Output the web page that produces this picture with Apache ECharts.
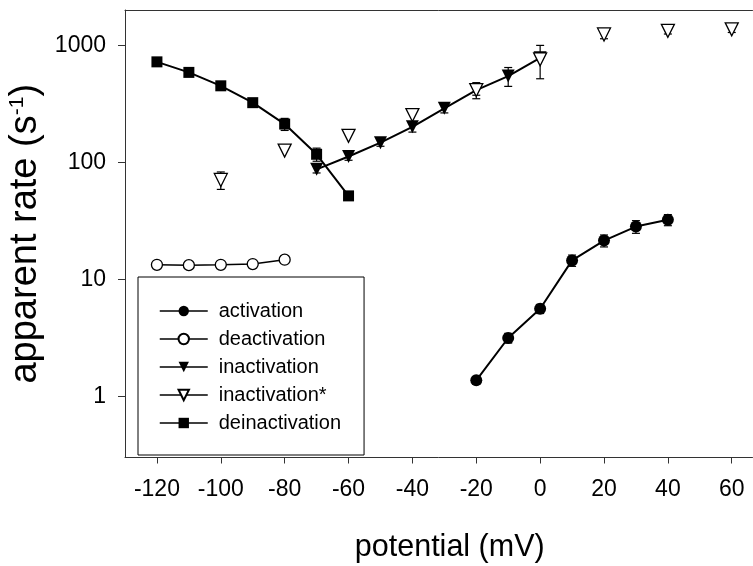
<!DOCTYPE html>
<html><head><meta charset="utf-8">
<script src="https://cdn.jsdelivr.net/npm/echarts@6/dist/echarts.min.js"></script>
<style>html,body{margin:0;padding:0;background:#fff}#c{width:753px;height:566px}</style>
</head><body><div id="c"></div>
<script>
const potentialTicks = [-120,-100,-80,-60,-40,-20,0,20,40,60];
const rateTicks = [1,10,100,1000];
const activationX = [-20,-10,0,10,20,30,40];
const activationY = [1.37,3.15,5.6,14.5,21.4,28.2,32.2];
const activationErr = [0.1,0.3,0.5,1.6,2.5,3.5,3.5];
const deactivationX = [-120,-110,-100,-90,-80];
const deactivationY = [13.3,13.2,13.3,13.5,14.7];
const inactivationX = [-70,-60,-50,-40,-30,-20,-10,0];
const inactivationY = [87,112,147,201,289,414,545,780];
const inactivationErr = [6,8,10,20,25,40,100,0];
const inactivationStarX = [-100,-80,-60,-40,-20,0,20,40,60];
const inactivationStarY = [70.6,125.7,168,253,414,757,1236,1327,1365];
const inactivationStarErr = [12,0,0,0,65,240,100,80,80];
const deinactivationX = [-120,-110,-100,-90,-80,-70,-60];
const deinactivationY = [721,586,450,323,212,117,51.6];
const deinactivationErr = [0,0,0,0,25,15,0];

const FONT = 'Liberation Sans';
const AX = '#333';
function zip(xs, ys){ return xs.map((x,i)=>[x, ys[i]]); }
function errData(xs, ys, es){
  const out = [];
  xs.forEach((x,i)=>{ if (es[i] > 0) out.push([x, ys[i]-es[i], ys[i]+es[i]]); });
  return out;
}
function errRender(params, api){
  const x = api.value(0), lo = api.value(1), hi = api.value(2);
  const pLo = api.coord([x, lo]), pHi = api.coord([x, hi]);
  const w = 4;
  const style = {stroke:'#000', lineWidth:1.2};
  return {type:'group', children:[
    {type:'line', shape:{x1:pLo[0],y1:pLo[1],x2:pHi[0],y2:pHi[1]}, style:style},
    {type:'line', shape:{x1:pLo[0]-w,y1:pLo[1],x2:pLo[0]+w,y2:pLo[1]}, style:style},
    {type:'line', shape:{x1:pHi[0]-w,y1:pHi[1],x2:pHi[0]+w,y2:pHi[1]}, style:style}
  ]};
}
const allErr = [].concat(
  errData(activationX, activationY, activationErr),
  errData(inactivationX, inactivationY, inactivationErr),
  errData(inactivationStarX, inactivationStarY, inactivationStarErr),
  errData(deinactivationX, deinactivationY, deinactivationErr)
);

const chart = echarts.init(document.getElementById('c'), null, {renderer:'canvas'});
chart.setOption({
  animation: false,
  backgroundColor: '#fff',
  textStyle: {fontFamily: FONT, color: '#000'},
  grid: {left: 125, top: 10, right: 0.5, bottom: 108.5, containLabel: false, outerBoundsMode: 'none'},
  xAxis: [{
    type: 'value', min: -130, max: 66.5, position: 'bottom',
    axisLine: {onZero: false, lineStyle: {color: AX, width: 1}},
    axisTick: {customValues: potentialTicks, length: 6, lineStyle: {color: AX}},
    axisLabel: {customValues: potentialTicks, fontSize: 23, color: '#000', margin: 21, fontFamily: FONT},
    splitLine: {show: false},
    name: 'potential (mV)', nameLocation: 'middle', nameGap: 75, nameMoveOverlap: false,
    nameTextStyle: {fontSize: 30.5, color: '#000', fontFamily: FONT, padding: [0,0,0,22]}
  },{
    type: 'value', min: -130, max: 66.5, position: 'top',
    axisLine: {show: true, onZero: false, lineStyle: {color: AX, width: 1}},
    axisTick: {show: false}, axisLabel: {show: false}, splitLine: {show: false}
  }],
  yAxis: {
    type: 'log', logBase: 10, min: 0.3, max: 2000,
    axisLine: {show: true, onZero: false, lineStyle: {color: AX, width: 1}},
    axisTick: {show: true, customValues: rateTicks, length: 7, lineStyle: {color: AX}},
    axisLabel: {customValues: rateTicks, fontSize: 23, color: '#000', margin: 19, fontFamily: FONT,
      formatter: function(v){ return String(Math.round(v)); }},
    splitLine: {show: false}, minorTick: {show: false},
    name: 'apparent rate (s{sup|-1})', nameLocation: 'middle', nameGap: 80, nameMoveOverlap: false,
    nameTextStyle: {fontSize: 38, color: '#000', fontFamily: FONT,
      rich: {sup: {fontSize: 21, verticalAlign: 'top', color: '#000', fontFamily: FONT}}}
  },
  legend: {
    data: ['activation','deactivation','inactivation','inactivation*','deinactivation'],
    orient: 'vertical', left: 138, top: 277,
    padding: [24, 23, 22, 21],
    itemWidth: 48, itemHeight: 13, itemGap: 8,
    borderColor: '#000', borderWidth: 1,
    selectedMode: false,
    textStyle: {fontSize: 20, color: '#000', lineHeight: 20, padding: [0,0,0,6], fontFamily: FONT},
    lineStyle: {color: '#000', width: 1.5, opacity: 1}
  },
  series: [
    {type: 'custom', renderItem: errRender, data: allErr, z: 1, silent: true,
     encode: {x: 0, y: [1, 2]}},
    {name: 'activation', type: 'line', data: zip(activationX, activationY),
     symbol: 'circle', symbolSize: 12, itemStyle: {color: '#000'},
     lineStyle: {color: '#000', width: 2}, z: 3},
    {name: 'deactivation', type: 'line', data: zip(deactivationX, deactivationY),
     symbol: 'circle', symbolSize: 11, itemStyle: {color: '#fff', borderColor: '#000', borderWidth: 1.3},
     lineStyle: {color: '#000', width: 1.5}, z: 3},
    {name: 'inactivation', type: 'line', data: zip(inactivationX, inactivationY),
     symbol: 'triangle', symbolRotate: 180, symbolSize: 13, itemStyle: {color: '#000'},
     lineStyle: {color: '#000', width: 2}, z: 3},
    {name: 'inactivation*', type: 'line', data: zip(inactivationStarX, inactivationStarY),
     symbol: 'triangle', symbolRotate: 180, symbolSize: 13,
     itemStyle: {color: '#fff', borderColor: '#000', borderWidth: 1.3},
     lineStyle: {color: '#000', width: 1.5, opacity: 0}, z: 4},
    {name: 'deinactivation', type: 'line', data: zip(deinactivationX, deinactivationY),
     symbol: 'rect', symbolSize: 11, itemStyle: {color: '#000'},
     lineStyle: {color: '#000', width: 2}, z: 5}
  ]
});
</script></body></html>
